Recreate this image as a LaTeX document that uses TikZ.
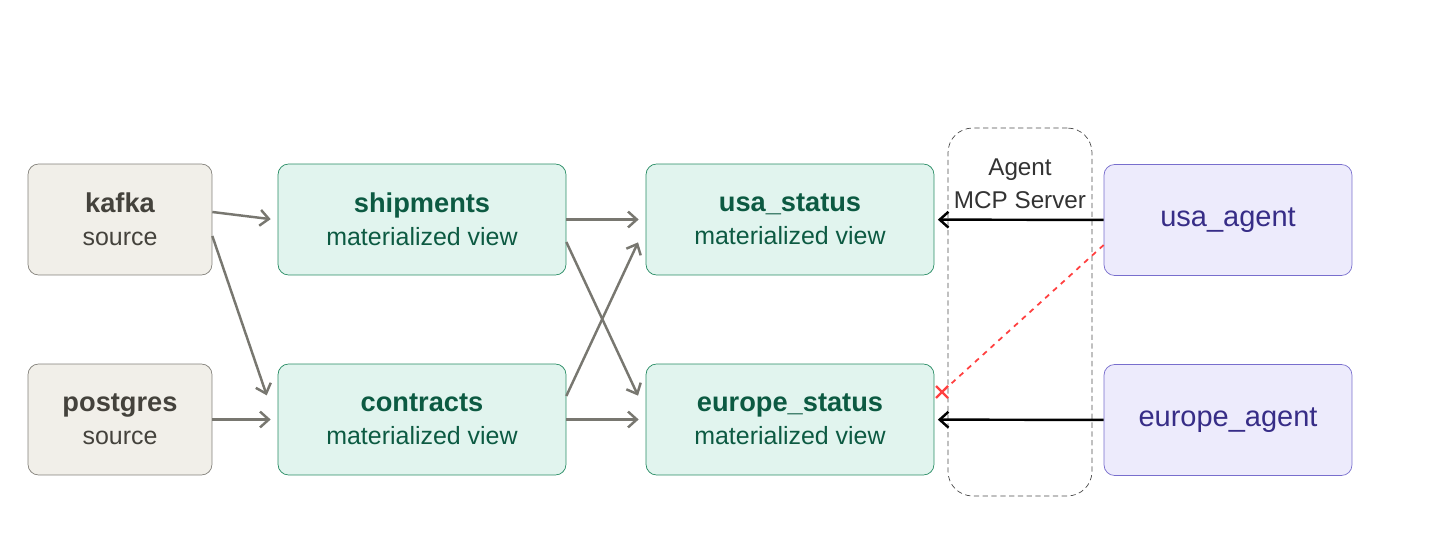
\documentclass[tikz,border=0pt]{standalone}
\usepackage{fontspec}
\setmainfont{Liberation Sans}
\usetikzlibrary{positioning,arrows.meta}
\definecolor{src_fill}{RGB}{241,239,233}
\definecolor{src_draw}{RGB}{130,128,122}
\definecolor{src_text}{RGB}{68,66,60}
\definecolor{mv_fill}{RGB}{225,244,238}
\definecolor{mv_draw}{RGB}{40,140,100}
\definecolor{mv_text}{RGB}{12,90,66}
\definecolor{agent_fill}{RGB}{237,235,252}
\definecolor{agent_draw}{RGB}{120,110,205}
\definecolor{agent_text}{RGB}{55,45,135}
\definecolor{flow}{RGB}{120,119,112}
\newcommand{\boxtitle}[1]{{\fontsize{15.5}{18.7}\selectfont\bfseries #1}}
\begin{document}
\begin{tikzpicture}[
    x=0.02cm, y=-0.02cm,
    box/.style={rectangle, draw, rounded corners=6pt, minimum height=2.22cm, align=center, font=\fontsize{14.2}{18.7}\selectfont},
    src/.style={box, fill=src_fill, draw=src_draw, text=src_text, minimum width=3.68cm},
    mv/.style={box, fill=mv_fill, draw=mv_draw, text=mv_text, minimum width=5.76cm},
    agent/.style={box, fill=agent_fill, draw=agent_draw, text=agent_text, minimum width=4.96cm, font=\fontsize{16.5}{18}\selectfont},
    arrow/.style={-{Straight Barb[length=5pt,width=9pt]}, flow, line width=1.4pt, shorten >=4pt},
    call/.style={-{Straight Barb[length=5pt,width=9pt]}, black, line width=1.4pt, shorten >=2pt}
]
\path[use as bounding box] (0,0) rectangle (1440,544);
\node[draw=black!70, dash pattern=on 3pt off 2pt, rounded corners=14pt, minimum width=2.88cm, minimum height=7.36cm] (mcp) at (1020,312) {};
\node[font=\fontsize{13.8}{18.5}\selectfont, text=black!80, align=center] (mcplabel) at (1020,184) {Agent\\MCP Server};

\node[src] (kafka) at (120,219.5) {\boxtitle{kafka}\\source};
\node[src] (postgres) at (120,419.5) {\boxtitle{postgres}\\source};
\node[mv] (shipments) at (422,219.5) {\boxtitle{shipments}\\materialized view};
\node[mv] (contracts) at (422,419.5) {\boxtitle{contracts}\\materialized view};
\node[mv] (usa) at (790,219.5) {\boxtitle{usa\_status}\\materialized view};
\node[mv] (europe) at (790,419.5) {\boxtitle{europe\_status}\\materialized view};
\node[agent] (usaagent) at (1228,220) {usa\_agent};
\node[agent] (euagent) at (1228,420) {europe\_agent};

\draw[arrow] (kafka.east |- 0,212) -- (shipments.west |- 0,220);
\draw[arrow] (kafka.east |- 0,236) -- (269,402);
\draw[arrow] (postgres) -- (contracts);
\draw[arrow] (shipments) -- (usa);
\draw[arrow] (shipments.east |- 0,242) -- (641,402);
\draw[arrow] (contracts.east |- 0,396) -- (641,236);
\draw[arrow] (contracts) -- (europe);
\draw[call] (usaagent) -- (usa);
\draw[call] (euagent) -- (europe);

\coordinate (blocked) at (942,392);
\draw[red!75, dashed, line width=1pt] (usaagent.west |- 0,245) -- (blocked);
\draw[red!75, line width=1.3pt] ([shift={(-6,-6)}]blocked) -- ([shift={(6,6)}]blocked)
  ([shift={(-6,6)}]blocked) -- ([shift={(6,-6)}]blocked);
\end{tikzpicture}
\end{document}
